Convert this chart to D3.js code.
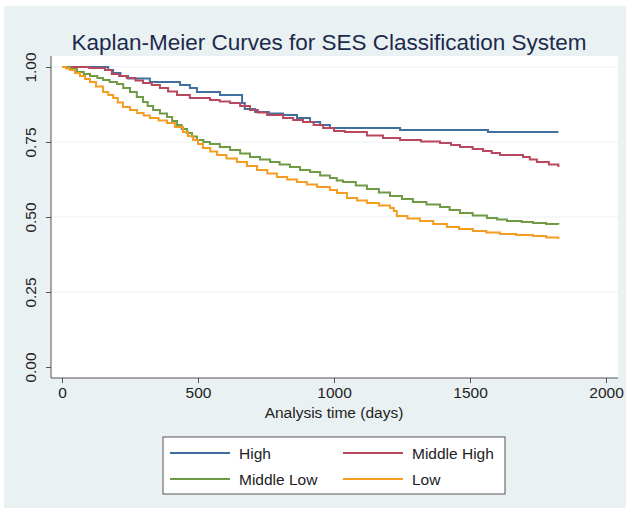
<!DOCTYPE html>
<html>
<head>
<meta charset="utf-8">
<script src="https://cdn.jsdelivr.net/npm/d3@7"></script>
<style>
  body { margin: 0; background: #fff; }
  text { font-family: "Liberation Sans", Arial, sans-serif; }
</style>
</head>
<body>
<script>
var width = 626;
var height = 508;

// group names + colours
var groups = ["High", "Middle High", "Middle Low", "Low"];
var colors = ["#41709f", "#b8485d", "#6f9a46", "#f59d22"];

// survival steps (time in days, proportion surviving)
var highTime = [0, 170, 188, 215, 243, 323, 434, 470, 496, 581, 662, 672, 710, 760, 813, 864, 912, 949, 985, 1243, 1566, 1825];
var highSurv = [1, 0.99, 0.98, 0.97, 0.962, 0.95, 0.94, 0.93, 0.917, 0.907, 0.88, 0.86, 0.85, 0.845, 0.84, 0.83, 0.817, 0.807, 0.797, 0.79, 0.783, 0.783];

var midHighTime = [0, 100, 158, 183, 210, 238, 270, 298, 330, 360, 390, 423, 470, 544, 580, 618, 655, 691, 720, 754, 813, 850, 886, 925, 960, 1000, 1040, 1121, 1180, 1243, 1320, 1390, 1430, 1463, 1510, 1548, 1580, 1610, 1695, 1720, 1746, 1790, 1825];
var midHighSurv = [1, 0.997, 0.99, 0.977, 0.97, 0.963, 0.955, 0.947, 0.94, 0.93, 0.918, 0.907, 0.897, 0.89, 0.885, 0.88, 0.87, 0.857, 0.848, 0.84, 0.83, 0.823, 0.817, 0.807, 0.797, 0.787, 0.783, 0.772, 0.763, 0.757, 0.752, 0.747, 0.74, 0.733, 0.727, 0.72, 0.713, 0.707, 0.70, 0.692, 0.683, 0.675, 0.667];

var midLowTime = [0, 30, 55, 80, 103, 130, 151, 175, 202, 225, 250, 275, 298, 315, 335, 360, 386, 405, 423, 440, 460, 478, 496, 520, 544, 580, 618, 655, 691, 728, 765, 800, 838, 875, 912, 949, 985, 1010, 1033, 1080, 1121, 1165, 1206, 1250, 1290, 1340, 1390, 1425, 1463, 1510, 1562, 1600, 1636, 1690, 1732, 1780, 1825];
var midLowSurv = [1, 0.993, 0.983, 0.977, 0.97, 0.963, 0.957, 0.95, 0.943, 0.93, 0.917, 0.9, 0.883, 0.87, 0.857, 0.845, 0.833, 0.82, 0.807, 0.793, 0.78, 0.768, 0.757, 0.75, 0.743, 0.733, 0.723, 0.712, 0.70, 0.692, 0.683, 0.675, 0.667, 0.657, 0.65, 0.638, 0.63, 0.622, 0.617, 0.605, 0.593, 0.582, 0.57, 0.56, 0.55, 0.542, 0.533, 0.523, 0.513, 0.505, 0.497, 0.492, 0.487, 0.483, 0.48, 0.477, 0.475];

var lowTime = [0, 15, 29, 48, 66, 85, 103, 125, 151, 170, 188, 205, 224, 250, 276, 300, 323, 355, 386, 415, 445, 463, 482, 500, 518, 545, 570, 605, 643, 680, 717, 755, 790, 828, 864, 900, 938, 985, 1011, 1048, 1085, 1121, 1165, 1206, 1220, 1231, 1270, 1316, 1365, 1415, 1460, 1511, 1560, 1610, 1670, 1732, 1780, 1825];
var lowSurv = [1, 0.995, 0.99, 0.98, 0.97, 0.96, 0.95, 0.935, 0.917, 0.907, 0.897, 0.882, 0.867, 0.857, 0.847, 0.838, 0.83, 0.822, 0.813, 0.80, 0.783, 0.77, 0.757, 0.743, 0.73, 0.718, 0.707, 0.695, 0.683, 0.67, 0.657, 0.645, 0.633, 0.625, 0.617, 0.608, 0.60, 0.59, 0.58, 0.563, 0.555, 0.547, 0.538, 0.53, 0.52, 0.503, 0.495, 0.487, 0.477, 0.467, 0.46, 0.453, 0.448, 0.443, 0.44, 0.437, 0.432, 0.427];

var xTicks = [0, 500, 1000, 1500, 2000];
var yTicks = [0, 0.25, 0.5, 0.75, 1];

var series = [
  { name: groups[0], color: colors[0], t: highTime, s: highSurv },
  { name: groups[1], color: colors[1], t: midHighTime, s: midHighSurv },
  { name: groups[2], color: colors[2], t: midLowTime, s: midLowSurv },
  { name: groups[3], color: colors[3], t: lowTime, s: lowSurv }
];

var svg = d3.select("body").append("svg")
  .attr("width", width)
  .attr("height", height);

// outer graph region
svg.append("rect")
  .attr("x", 4).attr("y", 6)
  .attr("width", width - 4).attr("height", height - 6)
  .attr("fill", "#eaf1f3");

// plot region
var plot = { left: 51, top: 56, right: 618, bottom: 378 };
svg.append("rect")
  .attr("x", plot.left).attr("y", plot.top)
  .attr("width", plot.right - plot.left).attr("height", plot.bottom - plot.top)
  .attr("fill", "#fff");

var x = d3.scaleLinear().domain([0, 2000]).range([62, 606]);
var y = d3.scaleLinear().domain([0, 1]).range([367, 67]);

// gridlines
svg.append("g").selectAll("line")
  .data(yTicks.filter(function(d) { return d > 0; }))
  .enter().append("line")
  .attr("x1", plot.left).attr("x2", plot.right)
  .attr("y1", function(d) { return y(d); })
  .attr("y2", function(d) { return y(d); })
  .attr("stroke", "#eaf1f3")
  .attr("stroke-width", 1.2);

// y axis
var yAxis = svg.append("g")
  .attr("transform", "translate(" + plot.left + ",0)")
  .call(d3.axisLeft(y).tickValues(yTicks).tickFormat(d3.format(".2f")).tickSize(5).tickPadding(4));
yAxis.select(".domain").attr("d", "M0," + plot.top + "V" + plot.bottom).attr("stroke", "#555");
yAxis.selectAll(".tick line").attr("stroke", "#555");
yAxis.selectAll(".tick text")
  .attr("font-size", 15.5).attr("fill", "#222")
  .attr("text-anchor", "middle")
  .attr("x", 0).attr("dy", 0)
  .attr("transform", "translate(-15,0) rotate(-90)");

// x axis
var xAxis = svg.append("g")
  .attr("transform", "translate(0," + plot.bottom + ")")
  .call(d3.axisBottom(x).tickValues(xTicks).tickFormat(d3.format("d")).tickSize(5).tickPadding(4));
xAxis.select(".domain").attr("d", "M" + plot.left + ",0H" + plot.right).attr("stroke", "#555");
xAxis.selectAll(".tick line").attr("stroke", "#555");
xAxis.selectAll(".tick text").attr("font-size", 15.5).attr("fill", "#222");

// curves
var line = d3.line()
  .x(function(d) { return x(d[0]); })
  .y(function(d) { return y(d[1]); })
  .curve(d3.curveStepAfter);

series.forEach(function(sr) {
  var pts = sr.t.map(function(t, i) { return [t, sr.s[i]]; });
  svg.append("path")
    .attr("d", line(pts))
    .attr("fill", "none")
    .attr("stroke", sr.color)
    .attr("stroke-width", 2);
});

// titles
svg.append("text")
  .attr("x", 329).attr("y", 50)
  .attr("text-anchor", "middle")
  .attr("font-size", 22.5)
  .attr("fill", "#1c2a4c")
  .text("Kaplan-Meier Curves for SES Classification System");

svg.append("text")
  .attr("x", 334).attr("y", 418)
  .attr("text-anchor", "middle")
  .attr("font-size", 15.5)
  .attr("fill", "#222")
  .text("Analysis time (days)");

// legend
var lg = svg.append("g");
lg.append("rect")
  .attr("x", 163).attr("y", 437)
  .attr("width", 342).attr("height", 57)
  .attr("fill", "#fff")
  .attr("stroke", "#555");

var cols = [170, 343];
var rows = [453, 479];
series.forEach(function(sr, i) {
  var cx = cols[i % 2], cy = rows[Math.floor(i / 2)];
  lg.append("line")
    .attr("x1", cx).attr("x2", cx + 60)
    .attr("y1", cy).attr("y2", cy)
    .attr("stroke", sr.color).attr("stroke-width", 2);
  lg.append("text")
    .attr("x", cx + 69).attr("y", cy + 5.5)
    .attr("font-size", 15.5)
    .attr("fill", "#222")
    .text(sr.name);
});
</script>
</body>
</html>
